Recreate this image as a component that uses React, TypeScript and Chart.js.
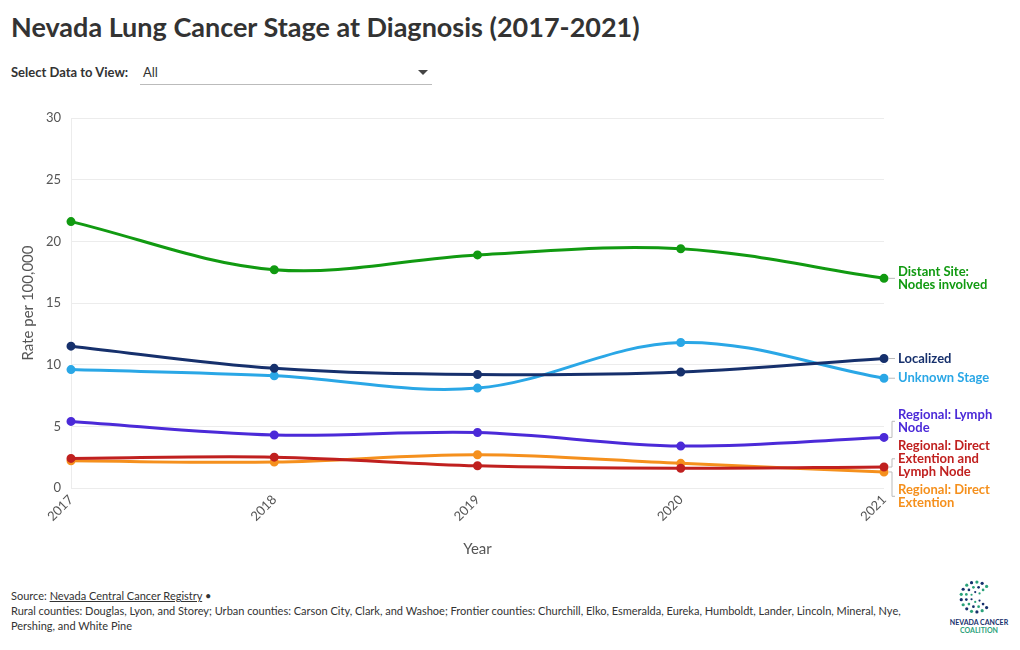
import React, { useEffect, useRef } from "react";
import { Chart, registerables } from "chart.js";

Chart.register(...registerables);

const years = ["2017", "2018", "2019", "2020", "2021"];
const distantSite = [21.6, 17.7, 18.9, 19.4, 17.0];
const localized = [11.5, 9.7, 9.2, 9.4, 10.5];
const unknownStage = [9.6, 9.1, 8.1, 11.8, 8.9];
const regionalLymph = [5.4, 4.3, 4.5, 3.4, 4.1];
const regionalDirectLymph = [2.4, 2.5, 1.8, 1.6, 1.7];
const regionalDirect = [2.2, 2.1, 2.7, 2.0, 1.3];
const yTicks = [0, 5, 10, 15, 20, 25, 30];

const seriesNames = [
  "Distant Site: Nodes involved",
  "Localized",
  "Unknown Stage",
  "Regional: Lymph Node",
  "Regional: Direct Extention and Lymph Node",
  "Regional: Direct Extention",
];
const endLabels = [
  ["Distant Site:", "Nodes involved"],
  ["Localized"],
  ["Unknown Stage"],
  ["Regional: Lymph", "Node"],
  ["Regional: Direct", "Extention and", "Lymph Node"],
  ["Regional: Direct", "Extention"],
];
const colors = ["#119a11", "#16306c", "#2aa7e6", "#4b2ad8", "#c0201f", "#f5901d"];
const seriesValues = [distantSite, localized, unknownStage, regionalLymph, regionalDirectLymph, regionalDirect];

const FONT = "Lato, 'Noto Sans', sans-serif";

const endLabelPlugin = {
  id: "endLabels",
  afterDatasetsDraw(chart: any) {
    const ctx = chart.ctx;
    const lh = 13;
    const gap = 5;
    const items: any[] = [];
    chart.data.datasets.forEach((ds: any, i: number) => {
      const meta = chart.getDatasetMeta(i);
      const pt = meta.data[meta.data.length - 1];
      const lines = endLabels[i];
      items.push({ px: pt.x, py: pt.y, lines, h: lines.length * lh, color: ds.borderColor });
    });
    items.sort((a, b) => a.py - b.py);
    const groups: any[] = items.map((it) => ({ items: [it], top: 0, h: it.h }));
    const layout = (g: any) => {
      const total = g.items.reduce((s: number, it: any) => s + it.h, 0) + gap * (g.items.length - 1);
      const center = g.items.reduce((s: number, it: any) => s + it.py, 0) / g.items.length;
      g.h = total;
      g.top = center - total / 2;
    };
    groups.forEach(layout);
    let changed = true;
    while (changed) {
      changed = false;
      for (let i = 0; i < groups.length - 1; i++) {
        const a = groups[i], b = groups[i + 1];
        if (a.top + a.h + gap > b.top) {
          const m = { items: a.items.concat(b.items), top: 0, h: 0 };
          layout(m);
          groups.splice(i, 2, m);
          changed = true;
          break;
        }
      }
    }
    ctx.save();
    ctx.font = `bold 13px ${FONT}`;
    ctx.textBaseline = "middle";
    ctx.textAlign = "left";
    groups.forEach((g: any) => {
      let y = g.top;
      g.items.forEach((it: any) => {
        const cy = y + it.h / 2;
        const x0 = it.px + 5;
        ctx.strokeStyle = "#bbbbbb";
        ctx.lineWidth = 1;
        ctx.beginPath();
        if (Math.abs(cy - it.py) < 2) {
          ctx.moveTo(x0, it.py);
          ctx.lineTo(x0 + 6, it.py);
        } else {
          ctx.moveTo(x0, it.py);
          ctx.lineTo(x0 + 3, it.py);
          ctx.lineTo(x0 + 3, cy);
          ctx.lineTo(x0 + 6, cy);
        }
        ctx.stroke();
        ctx.fillStyle = it.color;
        it.lines.forEach((ln: string, k: number) => {
          ctx.fillText(ln, it.px + 14, y + lh * k + lh / 2);
        });
        y += it.h + gap;
      });
    });
    ctx.restore();
  },
};

function LungChart() {
  const ref = useRef<HTMLCanvasElement>(null);
  useEffect(() => {
    const chart = new Chart(ref.current as HTMLCanvasElement, {
      type: "line",
      data: {
        labels: years,
        datasets: seriesValues.map((vals, i) => ({
          label: seriesNames[i],
          data: vals,
          borderColor: colors[i],
          backgroundColor: colors[i],
          borderWidth: 3,
          pointRadius: 3,
          pointHoverRadius: 4,
          tension: 0.35,
          fill: false,
        })),
      },
      options: {
        animation: false,
        responsive: false,
        maintainAspectRatio: false,
        layout: { padding: { top: 18, right: 136, left: 19, bottom: 8 } },
        plugins: { legend: { display: false }, tooltip: { enabled: false } },
        scales: {
          x: {
            type: "category",
            offset: false,
            grid: { display: false, drawTicks: false },
            border: { display: false },
            ticks: {
              maxRotation: 45,
              minRotation: 45,
              padding: 4,
              color: "#555",
              font: { family: FONT, size: 13 },
            },
            title: {
              display: true,
              text: "Year",
              color: "#555",
              font: { family: FONT, size: 15 },
            },
            afterFit: (s: any) => {
              s.height = 74;
            },
          },
          y: {
            min: 0,
            max: 30,
            afterBuildTicks: (s: any) => {
              s.ticks = yTicks.map((v) => ({ value: v }));
            },
            grid: { color: "#ececec", drawTicks: false },
            border: { display: true, color: "#ececec" },
            ticks: {
              padding: 10,
              color: "#555",
              font: { family: FONT, size: 13 },
            },
            title: {
              display: true,
              text: "Rate per 100,000",
              color: "#555",
              font: { family: FONT, size: 15 },
              padding: { top: 0, bottom: 0 },
            },
            afterFit: (s: any) => {
              s.width = 52;
            },
          },
        },
      },
      plugins: [endLabelPlugin],
    } as any);
    return () => chart.destroy();
  }, []);
  return (
    <canvas
      ref={ref}
      width={1020}
      height={470}
      style={{ position: "absolute", left: 0, top: 100, width: 1020, height: 470 }}
    />
  );
}

function Logo() {
  const dots: any[] = [];
  const cx = 976, cy = 597;
  for (let r = 0; r < 3; r++) {
    const rad = 15 - r * 5;
    const n = 14 - r * 4;
    for (let k = 0; k < n; k++) {
      const ang = Math.PI * 0.25 + (k / (n - 1)) * Math.PI * 1.5;
      dots.push(
        <circle
          key={`${r}-${k}`}
          cx={cx + Math.cos(ang) * rad}
          cy={cy + Math.sin(ang) * rad}
          r={1.6 - r * 0.25}
          fill={k % 2 === 0 ? "#16306c" : "#2aa27a"}
        />
      );
    }
  }
  return (
    <div style={{ position: "absolute", left: 940, top: 578, width: 80, height: 60 }}>
      <svg width={80} height={40} style={{ position: "absolute", left: 0, top: 0 }} viewBox="940 578 80 40">
        {dots}
      </svg>
      <div style={{ position: "absolute", top: 40, left: 0, width: 78, textAlign: "center", font: `bold 7px ${FONT}`, lineHeight: "8px" }}>
        <div style={{ color: "#16306c" }}>NEVADA CANCER</div>
        <div style={{ color: "#2aa27a" }}>COALITION</div>
      </div>
    </div>
  );
}

export default function App() {
  return (
    <div style={{ position: "fixed", left: 0, top: 0, width: 1020, height: 650, background: "#fff", fontFamily: FONT, color: "#333" }}>
      <div style={{ position: "absolute", left: 11, top: 10, fontSize: 27, fontWeight: 700, color: "#333", whiteSpace: "nowrap" }}>
        Nevada Lung Cancer Stage at Diagnosis (2017-2021)
      </div>
      <div style={{ position: "absolute", left: 11, top: 64, fontSize: 13, fontWeight: 700, color: "#333" }}>Select Data to View:</div>
      <div style={{ position: "absolute", left: 140, top: 62, width: 292, height: 22, borderBottom: "1px solid #bbb" }}>
        <span style={{ position: "absolute", left: 3, top: 2, fontSize: 13, color: "#333" }}>All</span>
        <span style={{ position: "absolute", left: 278, top: 8, width: 0, height: 0, borderLeft: "5px solid transparent", borderRight: "5px solid transparent", borderTop: "5px solid #444" }} />
      </div>
      <LungChart />
      <div style={{ position: "absolute", left: 11, top: 588, fontSize: 11, lineHeight: "15px", color: "#333", width: 930 }}>
        <div>
          Source: <span style={{ textDecoration: "underline" }}>Nevada Central Cancer Registry</span> •
        </div>
        <div>
          Rural counties: Douglas, Lyon, and Storey; Urban counties: Carson City, Clark, and Washoe; Frontier counties: Churchill, Elko, Esmeralda, Eureka, Humboldt, Lander, Lincoln, Mineral, Nye, Pershing, and White Pine
        </div>
      </div>
      <Logo />
    </div>
  );
}
